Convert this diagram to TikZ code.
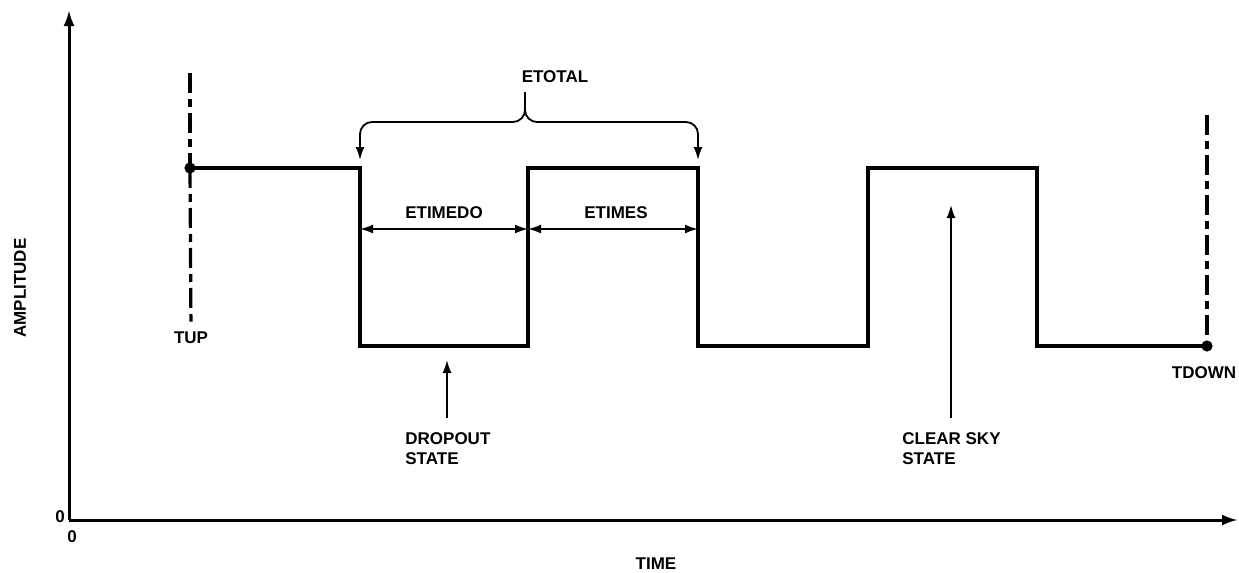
\documentclass[tikz,border=0pt]{standalone}
\usepackage{fontspec}
\setmainfont{Liberation Sans}
\usetikzlibrary{arrows.meta, positioning}

\begin{document}
\begin{tikzpicture}[
    x=0.5pt, y=-0.5pt,
    every node/.style={font=\fontsize{8.5}{10}\selectfont\bfseries, inner sep=0pt},
    axis/.style={line width=1.5pt, -{Latex[length=8pt,width=5.5pt]}},
    wave/.style={line width=1.8pt, line join=miter},
    marker/.style={line width=1.6pt, dash pattern=on 10pt off 3pt on 4pt off 3pt},
    pointer/.style={line width=0.9pt, -{Latex[length=6.5pt,width=4.5pt]}},
    span/.style={line width=0.9pt, {Latex[length=6.5pt,width=4.5pt]}-{Latex[length=6.5pt,width=4.5pt]}},
]

\def\hi{168}   % clear sky level
\def\lo{346}   % dropout level

% ================================================================
% Units are pixels of the 1239 x 573 sheet, y running downwards.
%
%   axes meet at (69,520)
%   edges of the wave at x = 190 360 528 698 868 1037 1207
%   y = 77    ETOTAL, brace at y = 122
%   y = 213   ETIMEDO / ETIMES, span arrows at y = 229
% ================================================================

\useasboundingbox (0,0) rectangle (1239,573);

% ---------------------------------------------------------------- axes
\coordinate (origin) at (69,520);
\coordinate (ytop)   at (69,10);
\coordinate (xend)   at (1238,520);
\draw[axis] (origin) -- (ytop);
\draw[axis] (origin) -- (xend);

\node (yzero) at (60,517) {0};
\node (xzero) at (72,537) {0};
\node (time)  at (656,564) {TIME};
\node[rotate=90] (amp) at (20,288) {AMPLITUDE};

% ---------------------------------------------------------------- the wave
\coordinate (up)    at (190,\hi);
\coordinate (fall1) at (360,\hi);
\coordinate (rise1) at (528,\hi);
\coordinate (fall2) at (698,\hi);
\coordinate (down)  at (1207,\lo);

\draw[wave] (up) -| (360,\lo) -| (rise1) -| (698,\lo) -| (868,\hi)
    -| (1037,\lo) -- (down);

% start and end marks
\node (tup)   at (191,338)  {TUP};
\node (tdown) at (1204,373) {TDOWN};
\coordinate (uptop)   at (190,73);
\coordinate (downtop) at (1207,115);
\draw[marker] (uptop) -- (up);
\draw[marker, shorten >=5pt] (up) -- (tup.north);
\draw[marker] (downtop) -- (down);
\fill (up)   circle (2.8pt);
\fill (down) circle (2.8pt);

% ---------------------------------------------------------------- ETOTAL brace
\node (etotal) at (555,77) {ETOTAL};
\coordinate (btip)  at (525,92);
\coordinate (bleft) at (360,160);
\coordinate (bright) at (698,160);
\draw[pointer, rounded corners=6pt] (btip) |- (bleft |- 0,122) -- (bleft);
\draw[pointer, rounded corners=6pt] (btip) |- (bright |- 0,122) -- (bright);

% ---------------------------------------------------------------- spans
\node (etimedo) at (444,213) {ETIMEDO};
\node (etimes)  at (616,213) {ETIMES};
\coordinate (s0) at (360,229);
\coordinate (s1) at (528,229);
\coordinate (s2) at (698,229);
\draw[span] (s0) -- (s1);
\draw[span] (s1) -- (s2);

% ---------------------------------------------------------------- states
\node[anchor=north west, align=left] (dropout) at (405,432) {DROPOUT\\STATE};
\node[anchor=north west, align=left] (clear)   at (902,432) {CLEAR SKY\\STATE};
\coordinate (droptip)  at (447,360);
\coordinate (cleartip) at (951,205);
\draw[pointer, shorten <=7pt] (dropout.north -| droptip) -- (droptip);
\draw[pointer, shorten <=7pt] (clear.north -| cleartip) -- (cleartip);

\end{tikzpicture}
\end{document}
